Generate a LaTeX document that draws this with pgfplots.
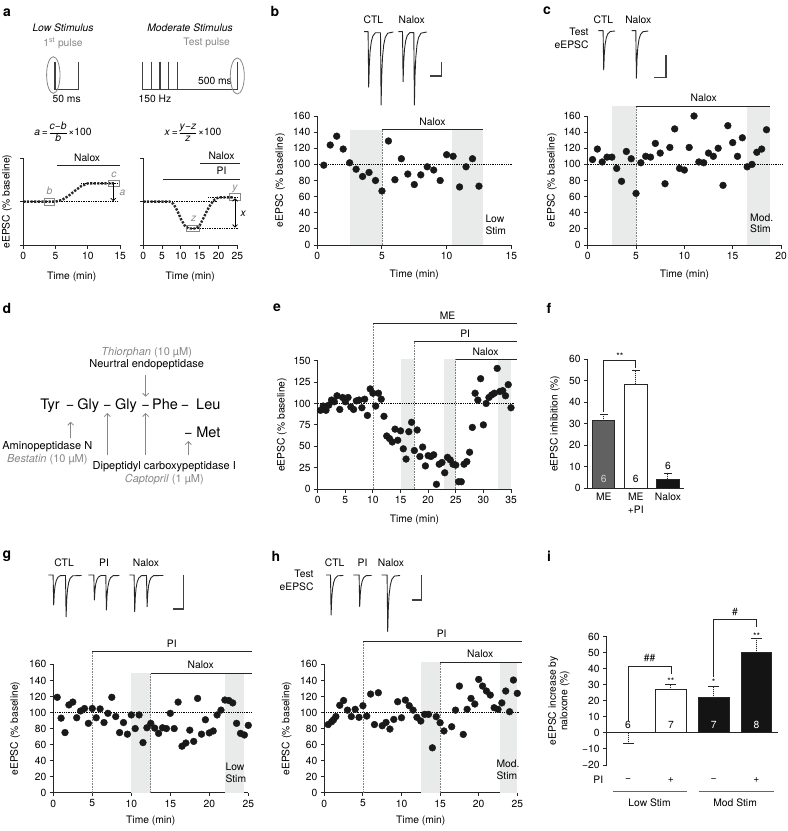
\documentclass[border=0pt]{standalone}
\usepackage{fontspec}
\setmainfont{TeX Gyre Heros}
\usepackage{pgfplots}
\pgfplotsset{compat=1.18}
\usetikzlibrary{arrows.meta}
\definecolor{shade}{RGB}{233,235,234}
\definecolor{lgray}{RGB}{135,135,135}
\newcommand{\fs}{\fontsize{10.3bp}{11.5bp}\selectfont}
\newcommand{\fl}{\fontsize{14bp}{16bp}\selectfont\bfseries}
\pgfplotsset{
  base/.style={scale only axis, clip=false, enlargelimits=false,
    axis lines=left, axis line style={-, line width=1bp, black!85},
    tick align=outside, major tick length=3.5bp,
    tick style={line width=1bp, black!85},
    tick label style={font=\fs}, label style={font=\fs},
    /pgf/number format/assume math mode=true,
    anchor=south west},
  dots/.style={only marks, mark=*, mark size=3.4bp, black!90, mark options={solid}},
  base100/.style={densely dotted, line width=0.8bp, black},
  vdot/.style={densely dotted, line width=0.6bp, black!50},
  drug/.style={line width=1bp, black!85},
  shadeplot/.style={fill=shade, draw=none},
  thin/.style={densely dotted, line width=0.7bp, black},
  cart/.style={line width=2.4bp, dash pattern=on 2.2bp off 1.4bp, black!85},
  trace/.style={line width=0.9bp, black!85, line join=round},
  stim/.style={line width=1.2bp, black!75},
  errs/.style={error bars/.cd, y dir=plus, y explicit, error bar style={line width=1bp, black!85}, error mark options={rotate=90, mark size=#1, line width=1bp, black!85}},
  errsm/.style={error bars/.cd, y dir=minus, y explicit, error bar style={line width=1bp, black!85}, error mark options={rotate=90, mark size=#1, line width=1bp, black!85}},
}
\begin{document}
\begin{tikzpicture}[font=\fs]
\path[use as bounding box] (0bp,0bp) rectangle (788bp,-831bp);

% panel letters
\node[font=\fl] at (7bp,-13bp) {a};
\node[font=\fl] at (275bp,-11bp) {b};
\node[font=\fl] at (547bp,-11bp) {c};
\node[font=\fl] at (7bp,-308bp) {d};
\node[font=\fl] at (277bp,-308bp) {e};
\node[font=\fl] at (549bp,-308bp) {f};
\node[font=\fl] at (7bp,-556bp) {g};
\node[font=\fl] at (276bp,-556bp) {h};
\node[font=\fl] at (549bp,-556bp) {i};

% ---------- panel a texts ----------
\node[font={\fs\itshape}] at (63bp,-28bp) {Low Stimulus};
\node[lgray] at (63bp,-43bp) {1\textsuperscript{st} pulse};
\node at (66.7bp,-99.3bp) {50 ms};
\node[font={\fs\itshape}] at (190bp,-28bp) {Moderate Stimulus};
\node[lgray] at (206.7bp,-43.3bp) {Test pulse};
\node at (155bp,-99.3bp) {150 Hz};
\node at (215bp,-80.7bp) {500 ms};
\node at (63bp,-133bp) {\textit{a}\,=\,$\vcenter{\hbox{\fs\begin{tabular}{@{}c@{}}\textit{c}−\textit{b}\\\hline\textit{b}\end{tabular}}}$\,×100};
\node at (193bp,-133bp) {\textit{x}\,=\,$\vcenter{\hbox{\fs\begin{tabular}{@{}c@{}}\textit{y}−\textit{z}\\\hline\textit{z}\end{tabular}}}$\,×100};

% ---------- panel d ----------
\node[lgray, font=\fontsize{11bp}{12bp}\selectfont] at (146.7bp,-352.7bp) {\textit{Thiorphan} (10 µM)};
\node[font=\fontsize{11bp}{12bp}\selectfont] at (146.7bp,-365bp) {Neurtral endopeptidase};
\begin{scope}[font=\fontsize{14.5bp}{16bp}\selectfont, every node/.style={anchor=base}]
\node at (50bp,-409bp) {Tyr};
\node at (70bp,-409bp) {−};
\node at (88.3bp,-409bp) {Gly};
\node at (107.3bp,-409bp) {−};
\node at (126bp,-409bp) {Gly};
\node at (145.7bp,-409bp) {−};
\node at (165bp,-409bp) {Phe};
\node at (185bp,-409bp) {−};
\node at (208.3bp,-409bp) {Leu};
\node at (188.3bp,-437.7bp) {−};
\node at (208.3bp,-437.7bp) {Met};
\end{scope}
\begin{scope}[lgray, line width=0.8bp, -{Straight Barb[length=3bp,width=6bp]}]
\draw (145.7bp,-375bp) -- (145.7bp,-396.7bp);
\draw (70.7bp,-438.3bp) -- (70.7bp,-421.7bp);
\draw (107.3bp,-455bp) -- (107.3bp,-413bp);
\draw (145.7bp,-455bp) -- (145.7bp,-413bp);
\draw (188.3bp,-455bp) -- (188.3bp,-441bp);
\end{scope}
\node[font=\fontsize{11bp}{12bp}\selectfont] at (47.3bp,-446.7bp) {Aminopeptidase N};
\node[lgray, font=\fontsize{11bp}{12bp}\selectfont] at (47.3bp,-460bp) {\textit{Bestatin} (10 µM)};
\node[font=\fontsize{11bp}{12bp}\selectfont] at (164.3bp,-466.7bp) {Dipeptidyl carboxypeptidase I};
\node[lgray, font=\fontsize{11bp}{12bp}\selectfont] at (164.3bp,-480bp) {\textit{Captopril} (1 µM)};

% ---------- trace labels ----------
\node at (373.3bp,-20bp) {CTL};
\node at (411.7bp,-20bp) {Nalox};
\node at (603.3bp,-20bp) {CTL};
\node at (638.3bp,-20bp) {Nalox};
\node[anchor=east] at (592bp,-31.7bp) {Test};
\node[anchor=east] at (592bp,-45bp) {eEPSC};
\node at (64bp,-563bp) {CTL};
\node at (104bp,-563bp) {PI};
\node at (146bp,-563bp) {Nalox};
\node at (334.7bp,-563bp) {CTL};
\node at (362.5bp,-563bp) {PI};
\node at (391bp,-563bp) {Nalox};
\node[anchor=east] at (317bp,-574bp) {Test};
\node[anchor=east] at (317bp,-587bp) {eEPSC};

% ---------- overlay axis: traces and stimulus schematics ----------
\begin{axis}[at={(0bp,-831bp)}, anchor=south west, scale only axis, width=788bp, height=831bp,
  xmin=0, xmax=788, ymin=-831, ymax=0, hide axis, clip=false]
\addplot[stim] coordinates {(55,-61.7)(55,-89.3)(78.3,-89.3)(78.3,-61.7)};
\addplot[stim] coordinates {(142.7,-61.7)(142.7,-89.3)(237.3,-89.3)(237.3,-61.7)};
\addplot[stim] coordinates {(151.3,-61.7)(151.3,-89.3)};
\addplot[stim] coordinates {(160,-61.7)(160,-89.3)};
\addplot[stim] coordinates {(168.7,-61.7)(168.7,-89.3)};
\addplot[stim] coordinates {(177.3,-61.7)(177.3,-89.3)};
\draw[lgray, line width=0.8bp] (axis cs:53.3,-75) ellipse [x radius=6.7bp, y radius=18.3bp];
\draw[lgray, line width=0.8bp] (axis cs:237.3,-76) ellipse [x radius=7bp, y radius=18bp];
% b traces
\addplot[trace] coordinates {(364,-31.7)(368.1,-31.7)(368.7,-87.3)(369.3,-65.1)(370.1,-51.2)(371.3,-41.7)(372.8,-36.1)(375.3,-32.8)(380.5,-32.8)(381.1,-105)(381.7,-75.7)(382.5,-57.4)(383.7,-44.9)(385.2,-37.6)(387.7,-33.2)(393.3,-32)};
\addplot[trace] coordinates {(398.3,-31.7)(402.5,-31.7)(403.1,-81.7)(403.7,-61.7)(404.5,-49.2)(405.7,-40.7)(407.2,-35.7)(409.7,-32.7)(413.8,-32.7)(414.4,-105)(415,-75.7)(415.8,-57.4)(417,-44.9)(418.5,-37.6)(421,-33.2)(426.7,-32)};
\addplot[stim] coordinates {(430,-76)(441.7,-76)(441.7,-61.7)};
% c traces
\addplot[trace] coordinates {(598.3,-30.7)(603.1,-30.7)(603.7,-70)(604.3,-54.3)(605.1,-44.5)(606.3,-37.8)(607.8,-33.8)(610.3,-31.5)(615,-31)};
\addplot[trace] coordinates {(631.7,-30.7)(635.8,-30.7)(636.4,-78.3)(637,-59.3)(637.8,-47.4)(639,-39.3)(640.5,-34.5)(643,-31.7)(648.3,-31)};
\addplot[stim] coordinates {(654.3,-77.3)(666,-77.3)(666,-55)};
% g traces
\addplot[trace] coordinates {(48.3,-575)(53.1,-575)(53.7,-605)(54.3,-593)(55.1,-585.5)(56.3,-580.4)(57.8,-577.4)(60.3,-575.6)(65.5,-575.5)(66.1,-616.7)(66.7,-600)(67.5,-589.6)(68.7,-582.5)(70.2,-578.3)(72.7,-575.8)(81.7,-575.5)};
\addplot[trace] coordinates {(88.3,-575)(93.8,-575)(94.4,-600)(95,-590)(95.8,-583.8)(97,-579.5)(98.5,-577)(101,-575.5)(105.8,-575.5)(106.4,-610)(107,-596)(107.8,-587.3)(109,-581.3)(110.5,-577.8)(113,-575.7)(119.3,-575.5)};
\addplot[trace] coordinates {(129.3,-575)(134.1,-575)(134.7,-611.7)(135.3,-597)(136.1,-587.8)(137.3,-581.6)(138.8,-578)(141.3,-575.7)(146.5,-575.5)(147.1,-606.7)(147.7,-594)(148.5,-586.1)(149.7,-580.7)(151.2,-577.5)(153.7,-575.6)(163.3,-575.5)};
\addplot[stim] coordinates {(173.3,-609)(183.3,-609)(183.3,-575)};
% h traces
\addplot[trace] coordinates {(326,-575)(330.5,-575)(331.1,-615)(331.7,-599)(332.5,-589)(333.7,-582.2)(335.2,-578.2)(337.7,-575.8)(343.3,-575.5)};
\addplot[trace] coordinates {(353.3,-575)(359.1,-575)(359.7,-606.7)(360.3,-594)(361.1,-586.1)(362.3,-580.7)(363.8,-577.5)(366.3,-575.6)(371.7,-575.5)};
\addplot[trace] coordinates {(381.7,-575)(387.1,-575)(387.7,-631.7)(388.3,-609)(389.1,-594.8)(390.3,-585.2)(391.8,-579.5)(394.3,-576.1)(400,-575.5)};
\addplot[stim] coordinates {(411.7,-600)(421.7,-600)(421.7,-575)};
\end{axis}

% ---------- panel a, left cartoon ----------
\begin{axis}[base, at={(23.3bp,-245bp)}, width=96.7bp, height=86.7bp,
  xmin=0, xmax=15, ymin=0, ymax=2, xtick={0,5,10,15}, ytick={0,1,2}, yticklabels={,,},
  xlabel={Time (min)}, ylabel={eEPSC (\% baseline)},
  xlabel style={at={(axis description cs:0.5,-0.37)}, anchor=center},
  ylabel style={at={(axis description cs:-0.17,0.5)}, anchor=center}]
\addplot[thin] coordinates {(0,1)(14.7,1)};
\addplot[thin] coordinates {(9,1.42)(14.7,1.42)};
\addplot[cart] coordinates {(0,1)(5,1)(6,1.04)(7,1.13)(8,1.25)(9,1.36)(10,1.42)(14.2,1.42)};
\draw[lgray, line width=0.8bp] (axis cs:3.2,0.92) rectangle (axis cs:4.9,1.08);
\draw[lgray, line width=0.8bp] (axis cs:13.2,1.35) rectangle (axis cs:14.9,1.5);
\node[lgray, font={\fs\itshape}] at (axis cs:4.05,1.24) {b};
\node[lgray, font={\fs\itshape}] at (axis cs:14.05,1.63) {c};
\draw[line width=0.8bp, -{Straight Barb[length=2.5bp,width=5bp]}] (axis cs:13.95,1.40) -- (axis cs:13.95,1.01);
\node[lgray, font={\fs\itshape}] at (axis cs:15.4,1.2) {a};
\addplot[drug] coordinates {(5.2,1.845)(15,1.845)};
\node at (axis cs:9.9,2.02) {Nalox};
\end{axis}

% ---------- panel a, right cartoon ----------
\begin{axis}[base, at={(143.3bp,-245bp)}, width=94bp, height=86.7bp,
  xmin=0, xmax=25, ymin=0, ymax=2, xtick={0,5,...,25}, ytick={0,1,2}, yticklabels={,,},
  xlabel={Time (min)},
  xlabel style={at={(axis description cs:0.5,-0.37)}, anchor=center}]
\addplot[thin] coordinates {(0,1)(19.5,1)};
\addplot[thin] coordinates {(17.3,1.1)(25.3,1.1)};
\addplot[thin] coordinates {(12.4,0.38)(25.3,0.38)};
\addplot[cart] coordinates {(0,1)(7,1)(8,0.95)(9,0.8)(10,0.6)(11,0.45)(12,0.38)(14,0.38)(15,0.45)(16,0.62)(17,0.8)(18,0.95)(19,1.05)(20,1.1)(24,1.1)};
\draw[lgray, line width=0.8bp] (axis cs:11.5,0.31) rectangle (axis cs:14.9,0.46);
\draw[lgray, line width=0.8bp] (axis cs:22.9,1.02) rectangle (axis cs:25.9,1.18);
\node[lgray, font={\fs\itshape}] at (axis cs:13.4,0.6) {z};
\node[lgray, font={\fs\itshape}] at (axis cs:24.4,1.29) {y};
\draw[line width=0.8bp, {Straight Barb[length=2.5bp,width=5bp]}-{Straight Barb[length=2.5bp,width=5bp]}] (axis cs:24.4,0.4) -- (axis cs:24.4,1.08);
\node[font={\fs\itshape}] at (axis cs:26.6,0.73) {x};
\addplot[drug] coordinates {(15,1.885)(25.7,1.885)};
\node at (axis cs:20.8,2.05) {Nalox};
\addplot[drug] coordinates {(5.3,1.52)(25.7,1.52)};
\node at (axis cs:20.8,1.71) {PI};
\end{axis}

% ---------- panel b ----------
\begin{axis}[base, at={(317.3bp,-245bp)}, width=194bp, height=129bp,
  xmin=0, xmax=15, ymin=0, ymax=160, xtick={0,5,10,15}, ytick={0,20,...,160},
  xlabel={Time (min)}, ylabel={eEPSC (\% baseline)},
  xlabel style={at={(axis description cs:0.5,-0.233)}, anchor=center},
  ylabel style={at={(axis description cs:-0.192,0.5)}, anchor=center}]
\addplot[shadeplot] coordinates {(2.5,143)(5,143)} \closedcycle;
\addplot[shadeplot] coordinates {(10.4,143)(12.8,143)} \closedcycle;
\addplot[base100] coordinates {(0,100)(15.1,100)};
\addplot[vdot] coordinates {(5,0)(5,143)};
\addplot[drug] coordinates {(5,143)(12.8,143)};
\node at (axis cs:8.9,153) {Nalox};
\node[align=left] at (axis cs:13.8,25) {Low\\Stim};
\addplot[dots] coordinates {(0.5,99)(1,124)(1.5,135)(2,119)(2.5,102)(3,94)(3.5,85)(4,90)(4.5,80)(5,67)(5.5,129)(6,81)(6.5,107)(7,88)(7.5,75)(8,87)(8.5,97)(9,93)(9.5,80)(10,112)(10.5,110)(11,72)(11.5,97)(12,107)(12.5,73)};
\end{axis}

% ---------- panel c ----------
\begin{axis}[base, at={(587.7bp,-245bp)}, width=193.3bp, height=129bp,
  xmin=0, xmax=20, ymin=0, ymax=160, xtick={0,5,...,20}, ytick={0,20,...,160},
  xlabel={Time (min)}, ylabel={eEPSC (\% baseline)},
  xlabel style={at={(axis description cs:0.5,-0.233)}, anchor=center},
  ylabel style={at={(axis description cs:-0.186,0.5)}, anchor=center}]
\addplot[shadeplot] coordinates {(2.5,172)(5,172)} \closedcycle;
\addplot[shadeplot] coordinates {(16.5,172)(18.9,172)} \closedcycle;
\addplot[base100] coordinates {(0,100)(20.2,100)};
\addplot[vdot] coordinates {(5,0)(5,172)};
\addplot[drug] coordinates {(5,172)(18.9,172)};
\node at (axis cs:12,183) {Nalox};
\node[align=left] at (axis cs:18.0,27) {Mod.\\Stim};
\addplot[dots] coordinates {(0.5,106)(1,119)(1.5,103)(2,109)(2.5,109)(3,95)(3.5,79)(4,116)(4.5,107)(5,64)(5.5,102)(6,110)(6.5,109)(7,126)(7.5,114)(8,76)(8.5,121)(9,144)(9.5,95)(10,93)(10.5,121)(11,160)(11.5,103)(12,102)(12.5,114)(13,110)(13.5,120)(14,74)(14.5,148)(15,127)(15.5,110)(16,133)(16.5,97)(17,100)(17.5,115)(18,119)(18.5,143)};
\end{axis}

% ---------- panel e ----------
\begin{axis}[base, at={(317.7bp,-489bp)}, width=193.3bp, height=128.3bp,
  xmin=0, xmax=35, ymin=0, ymax=150, xtick={0,5,...,35}, ytick={0,25,...,150},
  xlabel={Time (min)}, ylabel={eEPSC (\% baseline)},
  xlabel style={at={(axis description cs:0.5,-0.242)}, anchor=center},
  ylabel style={at={(axis description cs:-0.186,0.5)}, anchor=center}]
\addplot[shadeplot] coordinates {(15.1,151.5)(17.5,151.5)} \closedcycle;
\addplot[shadeplot] coordinates {(22.9,151.5)(25,151.5)} \closedcycle;
\addplot[shadeplot] coordinates {(32.7,151.5)(35,151.5)} \closedcycle;
\addplot[base100] coordinates {(0,100)(35.5,100)};
\addplot[vdot] coordinates {(10,0)(10,193)};
\addplot[vdot] coordinates {(17.5,0)(17.5,172)};
\addplot[vdot] coordinates {(25,0)(25,151.5)};
\addplot[drug] coordinates {(10,193)(36,193)};
\addplot[drug] coordinates {(17.5,172)(36,172)};
\addplot[drug] coordinates {(25,151.5)(36,151.5)};
\node at (axis cs:23.5,202) {ME};
\node at (axis cs:26.7,181) {PI};
\node at (axis cs:30.4,160.5) {Nalox};
\addplot[dots] coordinates {(0.5,92)(1,97)(1.5,92)(2,98)(2.5,104)(3,102)(3.5,109)(4,93)(4.5,107)(5,102)(5.5,107)(6,96)(6.5,93)(7,103)(7.5,104)(8,95)(8.5,105)(9,86)(9.5,117)(10,112)(10.5,97)(11,112)(11.5,105)(12,85)(12.5,62)(13,59)(13.5,55)(14,70)(14.5,57)(15,68)(15.5,47)(16,35)(16.5,67)(17,78)(17.5,45)(18,69)(18.5,38)(19,49)(19.5,27)(20,39)(20.5,38)(21,40)(21.5,5.5)(22,29)(22.5,31)(23,19)(23.5,37)(24,34)(24.5,29)(25,28)(25.5,8.5)(26,8.5)(26.5,29)(27,32)(27.5,43)(28,72)(28.5,112)(29,104)(29.5,129)(30,75)(30.5,100)(31,107)(31.5,110)(32,112)(32.5,141)(33,114)(33.5,115)(34,109)(34.5,122)(35,95)};
\end{axis}

% ---------- panel f ----------
\begin{axis}[base, at={(587.7bp,-488.3bp)}, width=96.3bp, height=129bp,
  xmin=0, xmax=3, ymin=0, ymax=60, xtick=\empty, ytick={0,10,...,60},
  ylabel={eEPSC inhibition (\%)},
  ylabel style={at={(axis description cs:-0.34,0.5)}, anchor=center}]
\addplot[ybar, bar width=22.3bp, bar shift=0pt, fill=black!62, draw=black!85, line width=1bp, errs=3.8bp] coordinates {(0.5,31.5) +- (0,2.6)};
\addplot[ybar, bar width=22.3bp, bar shift=0pt, fill=white, draw=black!85, line width=1bp, errs=3.8bp] coordinates {(1.5,48.5) +- (0,6.2)};
\addplot[ybar, bar width=22.3bp, bar shift=0pt, fill=black!92, draw=black!85, line width=1bp, errs=3.8bp] coordinates {(2.5,4.3) +- (0,2.7)};
\addplot[line width=0.8bp, black!85] coordinates {(0.5,35.5)(0.5,59.3)(1.5,59.3)(1.5,56)};
\node[font=\fontsize{9bp}{9bp}\selectfont] at (axis cs:1,61.6) {**};
\node[black!20] at (axis cs:0.5,4.2) {6};
\node at (axis cs:1.5,4.2) {6};
\node at (axis cs:2.5,10.5) {6};
\node[anchor=north, inner sep=0pt, align=center, font=\fontsize{10.3bp}{13bp}\selectfont] at (axis cs:0.5,-2.2) {ME};
\node[anchor=north, inner sep=0pt, align=center, font=\fontsize{10.3bp}{13bp}\selectfont] at (axis cs:1.5,-2.2) {ME\\+PI};
\node[anchor=north, inner sep=0pt, align=center, font=\fontsize{10.3bp}{13bp}\selectfont] at (axis cs:2.5,-2.2) {Nalox};
\end{axis}

% ---------- panel g ----------
\begin{axis}[base, at={(53.3bp,-792.7bp)}, width=195bp, height=128.3bp,
  xmin=0, xmax=25, ymin=0, ymax=160, xtick={0,5,...,25}, ytick={0,20,...,160},
  xlabel={Time (min)}, ylabel={eEPSC (\% baseline)},
  xlabel style={at={(axis description cs:0.5,-0.218)}, anchor=center},
  ylabel style={at={(axis description cs:-0.196,0.5)}, anchor=center}]
\addplot[shadeplot] coordinates {(10,149)(12.5,149)} \closedcycle;
\addplot[shadeplot] coordinates {(22,149)(24.5,149)} \closedcycle;
\addplot[base100] coordinates {(0,100)(25.5,100)};
\addplot[vdot] coordinates {(5,0)(5,176)};
\addplot[vdot] coordinates {(12.5,0)(12.5,149)};
\addplot[drug] coordinates {(5,176)(25.5,176)};
\addplot[drug] coordinates {(12.5,149)(25.5,149)};
\node at (axis cs:15.2,185.5) {PI};
\node at (axis cs:18.9,159) {Nalox};
\node[align=left] at (axis cs:23.4,25) {Low\\Stim};
\addplot[dots] coordinates {(0.5,119)(1,93)(1.5,75)(2,109.5)(2.5,113)(3,93.5)(3.5,102)(4,105)(4.5,86.5)(5,105)(5.5,93.5)(6,104.5)(6.5,87.5)(7,99)(7.5,119)(8,95)(8.5,75)(9,87.5)(9.5,73)(10,97)(10.5,80)(11,97)(11.5,62.5)(12,81)(12.5,86.5)(13,80.6)(13.5,74)(14,81)(14.5,80)(15,99)(15.5,80)(16,113)(16.5,58)(17,62)(17.5,78)(18,64)(18.5,117.6)(19,73)(19.5,91)(20,74.6)(20.5,77)(21,97)(21.5,103)(22,115.6)(22.5,115)(23,112)(23.5,86.5)(24,74)(24.5,72)(25,84)};
\end{axis}

% ---------- panel h ----------
\begin{axis}[base, at={(324.3bp,-792.7bp)}, width=193bp, height=128.3bp,
  xmin=0, xmax=25, ymin=0, ymax=160, xtick={0,5,...,25}, ytick={0,20,...,160},
  xlabel={Time (min)}, ylabel={eEPSC (\% baseline)},
  xlabel style={at={(axis description cs:0.5,-0.218)}, anchor=center},
  ylabel style={at={(axis description cs:-0.195,0.5)}, anchor=center}]
\addplot[shadeplot] coordinates {(12.5,163)(15,163)} \closedcycle;
\addplot[shadeplot] coordinates {(22.7,163)(25,163)} \closedcycle;
\addplot[base100] coordinates {(0,100)(25.3,100)};
\addplot[vdot] coordinates {(5,0)(5,189)};
\addplot[vdot] coordinates {(15,0)(15,163)};
\addplot[drug] coordinates {(5,189)(25.6,189)};
\addplot[drug] coordinates {(15,163)(25.6,163)};
\node at (axis cs:15.2,198.5) {PI};
\node at (axis cs:20.2,173) {Nalox};
\node[align=left] at (axis cs:23.8,28.7) {Mod.\\Stim};
\addplot[dots] coordinates {(0.5,85)(0.95,88.5)(1.2,91)(1.5,95)(2,109)(2.5,115)(3,103)(3.5,95)(4,104)(4.5,94)(5,108.5)(5.5,95.6)(6,123)(6.5,85)(7,124.7)(7.5,83.5)(8,87.7)(8.5,79.4)(9,91.4)(9.5,113.5)(10,93.5)(10.5,115.5)(11,108.5)(11.5,103)(12,94)(12.5,89.4)(13,97.7)(13.5,97.7)(14,56)(14.5,94.8)(15,87.3)(15.5,77)(16.5,82.3)(17,103)(17.5,133)(18,72.7)(18.5,104)(19,117.6)(19.5,110.6)(20,141.3)(20.5,133)(21,126.8)(21.5,121.8)(22,106)(22.5,104)(23,112)(23.5,126.8)(24,101)(24.5,140.5)(25,123.9)};
\end{axis}

% ---------- panel i ----------
\begin{axis}[base, at={(606.7bp,-765bp)}, width=171.2bp, height=128.3bp,
  xmin=-0.5, xmax=3.5, ymin=-20, ymax=60, axis x line=none,
  ytick={-20,-10,...,60}, yticklabels={−20,−10,0,10,20,30,40,50,60},
  ylabel={eEPSC increase by\\naloxone (\%)},
  ylabel style={align=center, at={(axis description cs:-0.279,0.5)}, anchor=center}]
\addplot[ybar, bar width=30.7bp, bar shift=0pt, fill=white, draw=black!85, line width=1bp, errsm=5.5bp] coordinates {(0,0) +- (0,6.8)};
\addplot[ybar, bar width=30.7bp, bar shift=0pt, fill=white, draw=black!85, line width=1bp, errs=5.5bp] coordinates {(1,27) +- (0,3.5)};
\addplot[ybar, bar width=30.7bp, bar shift=0pt, fill=black!92, draw=black!85, line width=1bp, errs=5.5bp] coordinates {(2,22) +- (0,7)};
\addplot[ybar, bar width=30.7bp, bar shift=0pt, fill=black!92, draw=black!85, line width=1bp, errs=5.5bp] coordinates {(3,50) +- (0,9)};
\addplot[line width=1bp, black!85] coordinates {(-0.5,0)(3.5,0)};
\addplot[line width=0.8bp, black!85] coordinates {(0,7.5)(0,41.8)(1,41.8)(1,36.6)};
\addplot[line width=0.8bp, black!85] coordinates {(2,35)(2,71)(3,71)(3,66)};
\node at (axis cs:0.5,46.5) {\#\#};
\node at (axis cs:2.5,75.5) {\#};
\node[font=\fontsize{9bp}{9bp}\selectfont] at (axis cs:1,32.2) {**};
\node[font=\fontsize{9bp}{9bp}\selectfont] at (axis cs:2,31.5) {*};
\node[font=\fontsize{9bp}{9bp}\selectfont] at (axis cs:3,60.2) {**};
\node at (axis cs:0,4.8) {6};
\node at (axis cs:1,4.8) {7};
\node[white] at (axis cs:2,4.8) {7};
\node[white] at (axis cs:3,4.8) {8};
\node[anchor=east] at (axis cs:-0.5,-29.1) {PI};
\node at (axis cs:0,-29.1) {−};
\node at (axis cs:1,-29.1) {+};
\node at (axis cs:2,-29.1) {−};
\node at (axis cs:3,-29.1) {+};
\addplot[line width=0.6bp, black!60] coordinates {(-0.35,-36.4)(1.38,-36.4)};
\addplot[line width=0.6bp, black!60] coordinates {(1.65,-36.4)(3.4,-36.4)};
\node at (axis cs:0.5,-43.5) {Low Stim};
\node at (axis cs:2.5,-43.5) {Mod Stim};
\end{axis}
\end{tikzpicture}
\end{document}
